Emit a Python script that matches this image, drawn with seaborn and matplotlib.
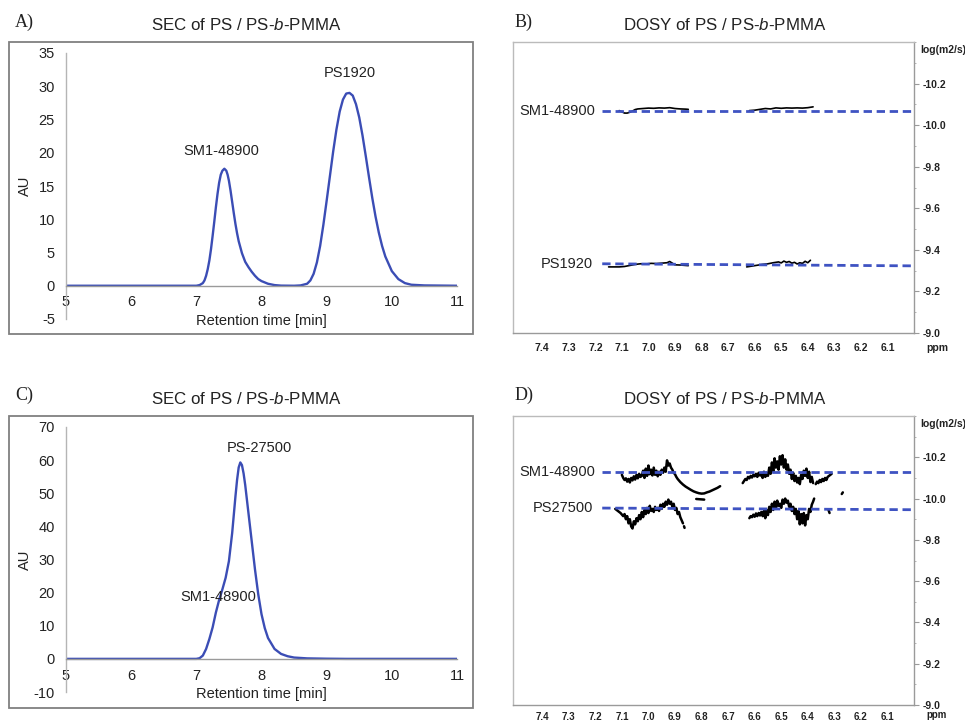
import matplotlib
matplotlib.use("Agg")
import matplotlib.pyplot as plt
from matplotlib.patches import Rectangle
from matplotlib.ticker import MultipleLocator, FixedLocator
import seaborn as sns
import pandas as pd

sns.set_style("white")
plt.rcParams['font.family'] = ['Liberation Sans', 'DejaVu Sans']
plt.rcParams['mathtext.fontset'] = 'custom'
plt.rcParams['mathtext.rm'] = 'Liberation Sans'
plt.rcParams['mathtext.it'] = 'Liberation Sans:italic'
plt.rcParams['axes.unicode_minus'] = False

# ---------------- data ----------------
# Panel A: SEC trace (retention time [min], AU)
sec_a_time = [5.0, 6.0, 7.0, 7.05, 7.1, 7.125, 7.15, 7.175, 7.2, 7.225, 7.25, 7.275, 7.3, 7.325,
              7.35, 7.375, 7.4, 7.43, 7.46, 7.48, 7.5, 7.525, 7.55, 7.575, 7.6, 7.625, 7.65, 7.7,
              7.75, 7.8, 7.85, 7.9, 7.95, 8.0, 8.1, 8.2, 8.3, 8.5, 8.6, 8.7, 8.75, 8.8, 8.85, 8.9,
              8.95, 9.0, 9.05, 9.1, 9.15, 9.2, 9.25, 9.3, 9.35, 9.4, 9.45, 9.5, 9.55, 9.6, 9.65,
              9.7, 9.75, 9.8, 9.85, 9.9, 10.0, 10.1, 10.2, 10.3, 10.5, 11.0]
sec_a_au = [0.0, 0.0, 0.0, 0.1, 0.4, 0.8, 1.5, 2.5, 3.8, 5.5, 7.5, 9.6, 11.8, 13.8,
            15.5, 16.7, 17.3, 17.6, 17.3, 16.7, 15.8, 14.3, 12.6, 10.9, 9.3, 7.9, 6.7, 4.9,
            3.6, 2.8, 2.1, 1.5, 1.0, 0.7, 0.3, 0.1, 0.02, 0.0, 0.05, 0.3, 0.8, 1.8, 3.5, 6.0,
            9.2, 12.8, 16.5, 20.2, 23.5, 26.2, 28.0, 28.9, 29.0, 28.6, 27.3, 25.3, 22.6, 19.5, 16.3,
            13.2, 10.4, 8.0, 6.0, 4.4, 2.2, 1.0, 0.4, 0.15, 0.05, 0.0]

# Panel C: SEC trace
sec_c_time = [5.0, 6.0, 7.0, 7.05, 7.1, 7.15, 7.2, 7.25, 7.3, 7.35, 7.4, 7.45, 7.5, 7.55, 7.6,
              7.625, 7.65, 7.675, 7.7, 7.725, 7.75, 7.8, 7.85, 7.9, 7.95, 8.0, 8.05, 8.1, 8.2,
              8.3, 8.4, 8.5, 8.7, 9.0, 9.3, 11.0]
sec_c_au = [0.0, 0.0, 0.0, 0.2, 1.0, 3.0, 6.0, 9.5, 14.0, 17.8, 21.0, 24.5, 29.5, 38.0, 49.0,
            54.0, 57.8, 59.3, 58.5, 56.0, 52.5, 44.0, 35.5, 27.0, 19.5, 13.5, 9.3, 6.3, 3.0,
            1.5, 0.8, 0.4, 0.15, 0.05, 0.0, 0.0]

sec_a_labels = ["SM1-48900", "PS1920"]
sec_a_label_x = [7.39, 9.36]
sec_a_label_y = [20.3, 32.0]
sec_c_labels = ["PS-27500", "SM1-48900"]
sec_c_label_x = [7.97, 7.34]
sec_c_label_y = [63.8, 18.8]

# Panel B: DOSY traces (ppm, log D)
b_sm1_seg1_ppm = [7.11, 7.10, 7.09, 7.08, 7.07, 7.06, 7.05, 7.04, 7.02, 7.00, 6.98, 6.96, 6.94,
                  6.92, 6.90, 6.88, 6.86, 6.85]
b_sm1_seg1_logd = [-10.070, -10.064, -10.058, -10.058, -10.062, -10.068, -10.075, -10.078,
                   -10.080, -10.082, -10.081, -10.083, -10.082, -10.084, -10.080, -10.078,
                   -10.077, -10.076]
b_sm1_seg2_ppm = [6.62, 6.60, 6.58, 6.56, 6.54, 6.52, 6.50, 6.48, 6.46, 6.44, 6.42, 6.40, 6.38]
b_sm1_seg2_logd = [-10.070, -10.072, -10.076, -10.080, -10.078, -10.083, -10.081, -10.083,
                   -10.082, -10.083, -10.082, -10.084, -10.088]
b_ps_seg1_ppm = [7.15, 7.13, 7.11, 7.09, 7.07, 7.05, 7.03, 7.01, 6.99, 6.97, 6.95, 6.93, 6.92,
                 6.91, 6.90, 6.88, 6.86, 6.85]
b_ps_seg1_logd = [-9.318, -9.318, -9.318, -9.320, -9.325, -9.330, -9.333, -9.332, -9.335,
                  -9.334, -9.336, -9.338, -9.344, -9.336, -9.328, -9.327, -9.325, -9.324]
b_ps_seg2_ppm = [6.63, 6.61, 6.59, 6.57, 6.55, 6.53, 6.51, 6.50, 6.49, 6.48, 6.47, 6.46, 6.45,
                 6.44, 6.43, 6.42, 6.41, 6.40, 6.39]
b_ps_seg2_logd = [-9.318, -9.322, -9.326, -9.330, -9.333, -9.338, -9.342, -9.337, -9.346,
                  -9.340, -9.344, -9.336, -9.340, -9.332, -9.338, -9.335, -9.345, -9.338, -9.350]

# Panel D: DOSY traces
d_sm1_seg1_ppm = [7.100, 7.095, 7.090, 7.085, 7.080, 7.075, 7.070, 7.065, 7.060, 7.055, 7.050,
                  7.045, 7.040, 7.035, 7.030, 7.025, 7.020, 7.015, 7.010, 7.005, 7.000, 6.995,
                  6.990, 6.985, 6.980, 6.975, 6.970, 6.965, 6.960, 6.955, 6.950, 6.945, 6.940,
                  6.935, 6.930, 6.925, 6.920, 6.915, 6.910, 6.905, 6.900, 6.895, 6.890, 6.880,
                  6.870, 6.860, 6.850, 6.840, 6.830, 6.820, 6.810, 6.800, 6.790, 6.780, 6.770,
                  6.760, 6.750, 6.740, 6.730]
d_sm1_seg1_logd = [-10.115, -10.100, -10.090, -10.098, -10.082, -10.095, -10.078, -10.100,
                   -10.088, -10.108, -10.092, -10.115, -10.098, -10.120, -10.105, -10.110,
                   -10.135, -10.100, -10.145, -10.110, -10.160, -10.118, -10.140, -10.112,
                   -10.150, -10.115, -10.135, -10.108, -10.130, -10.115, -10.140, -10.125,
                   -10.150, -10.130, -10.185, -10.160, -10.170, -10.150, -10.140, -10.125,
                   -10.118, -10.105, -10.095, -10.080, -10.068, -10.058, -10.050, -10.042,
                   -10.035, -10.030, -10.026, -10.024, -10.025, -10.030, -10.034, -10.040,
                   -10.046, -10.052, -10.060]
d_sm1_dash_ppm = [6.82, 6.79]
d_sm1_dash_logd = [-9.998, -9.995]
d_sm1_seg2_ppm = [6.645, 6.640, 6.635, 6.630, 6.625, 6.620, 6.615, 6.610, 6.605, 6.600, 6.595,
                  6.590, 6.585, 6.580, 6.575, 6.570, 6.565, 6.560, 6.555, 6.550, 6.545, 6.540,
                  6.535, 6.530, 6.525, 6.520, 6.515, 6.510, 6.505, 6.500, 6.495, 6.490, 6.485,
                  6.480, 6.475, 6.470, 6.465, 6.460, 6.455, 6.450, 6.445, 6.440, 6.435, 6.430,
                  6.425, 6.420, 6.415, 6.410, 6.405, 6.400, 6.395, 6.390, 6.385, 6.380]
d_sm1_seg2_logd = [-10.075, -10.085, -10.095, -10.090, -10.105, -10.098, -10.110, -10.102,
                   -10.115, -10.108, -10.120, -10.105, -10.125, -10.112, -10.118, -10.100,
                   -10.130, -10.105, -10.125, -10.110, -10.150, -10.120, -10.175, -10.130,
                   -10.195, -10.150, -10.180, -10.140, -10.205, -10.165, -10.210, -10.150,
                   -10.190, -10.140, -10.165, -10.120, -10.140, -10.095, -10.125, -10.085,
                   -10.110, -10.078, -10.100, -10.070, -10.115, -10.095, -10.135, -10.110,
                   -10.145, -10.100, -10.130, -10.080, -10.105, -10.075]
d_sm1_seg3_ppm = [6.370, 6.365, 6.360, 6.355, 6.350, 6.345, 6.340, 6.335, 6.330, 6.325, 6.320,
                  6.315, 6.310]
d_sm1_seg3_logd = [-10.070, -10.082, -10.075, -10.090, -10.080, -10.095, -10.085, -10.100,
                   -10.090, -10.105, -10.110, -10.115, -10.120]
d_sm1_tick_ppm = [6.272, 6.268]
d_sm1_tick_logd = [-10.022, -10.030]
d_ps_seg1_ppm = [7.125, 7.115, 7.105, 7.095, 7.090, 7.085, 7.080, 7.075, 7.070, 7.065, 7.060,
                 7.055, 7.050, 7.045, 7.040, 7.035, 7.030, 7.025, 7.020, 7.015, 7.010, 7.005,
                 7.000, 6.995, 6.990, 6.985, 6.980, 6.975, 6.970, 6.965, 6.960, 6.955, 6.950,
                 6.945, 6.940, 6.935, 6.930, 6.925, 6.920, 6.915, 6.910, 6.905, 6.900, 6.895,
                 6.890, 6.885, 6.880, 6.875, 6.870]
d_ps_seg1_logd = [-9.950, -9.940, -9.930, -9.915, -9.925, -9.900, -9.915, -9.880, -9.900,
                  -9.865, -9.855, -9.890, -9.875, -9.905, -9.890, -9.920, -9.900, -9.935,
                  -9.910, -9.945, -9.925, -9.955, -9.930, -9.965, -9.940, -9.950, -9.935,
                  -9.960, -9.945, -9.955, -9.940, -9.970, -9.950, -9.975, -9.960, -9.985,
                  -9.970, -9.995, -9.975, -9.985, -9.960, -9.975, -9.945, -9.955, -9.925,
                  -9.935, -9.910, -9.895, -9.880]
d_ps_dot_ppm = [6.866, 6.864]
d_ps_dot_logd = [-9.866, -9.858]
d_ps_seg2_ppm = [6.620, 6.615, 6.610, 6.605, 6.600, 6.595, 6.590, 6.585, 6.580, 6.575, 6.570,
                 6.565, 6.560, 6.555, 6.550, 6.545, 6.540, 6.535, 6.530, 6.525, 6.520, 6.515,
                 6.510, 6.505, 6.500, 6.495, 6.490, 6.485, 6.480, 6.475, 6.470, 6.465, 6.460,
                 6.455, 6.450, 6.445, 6.440, 6.435, 6.430, 6.425, 6.420, 6.415, 6.410, 6.405,
                 6.400, 6.395, 6.390, 6.385, 6.380, 6.376]
d_ps_seg2_logd = [-9.905, -9.915, -9.910, -9.922, -9.912, -9.928, -9.915, -9.930, -9.918,
                  -9.935, -9.915, -9.940, -9.905, -9.945, -9.920, -9.960, -9.935, -9.975,
                  -9.945, -9.985, -9.950, -9.990, -9.965, -9.975, -9.955, -9.995, -9.975,
                  -10.000, -9.980, -9.990, -9.960, -9.975, -9.940, -9.960, -9.925, -9.950,
                  -9.900, -9.940, -9.875, -9.925, -9.880, -9.930, -9.870, -9.920, -9.900,
                  -9.950, -9.935, -9.970, -9.985, -10.000]
d_ps_tick_ppm = [6.322, 6.318]
d_ps_tick_logd = [-9.945, -9.930]

# reference (dashed) lines: start logD, end logD
b_ref_names = ["SM1-48900", "PS1920"]
b_ref_start = [-10.067, -9.333]
b_ref_end = [-10.067, -9.323]
d_ref_names = ["SM1-48900", "PS27500"]
d_ref_start = [-10.128, -9.954]
d_ref_end = [-10.128, -9.946]
ref_ppm_range = [7.174, 6.0]
ref_label_ppm = [7.20, 7.21]

ppm_ticks = [7.4, 7.3, 7.2, 7.1, 7.0, 6.9, 6.8, 6.7, 6.6, 6.5, 6.4, 6.3, 6.2, 6.1]
logd_ticks = [-10.2, -10.0, -9.8, -9.6, -9.4, -9.2, -9.0]

# ---------------- figure ----------------
W, H = 965, 724
fig = plt.figure(figsize=(W / 100, H / 100), dpi=100)


def fbox(x0, y0, x1, y1):
    return [x0 / W, 1 - y1 / H, (x1 - x0) / W, (y1 - y0) / H]


BLUE = "#3b4db5"
DASH = "#3f53c2"
GRAY = "#9a9a9a"
TXT = "#222222"
TITLE = "SEC of PS / PS-$b$-PMMA"
DTITLE = "DOSY of PS / PS-$b$-PMMA"


def sec_panel(rect, frame, t, au, ylim, ystep, labels, lx, ly):
    fig.add_artist(Rectangle((frame[0], frame[1]), frame[2], frame[3],
                             transform=fig.transFigure, fill=False,
                             edgecolor="#808080", lw=1.3))
    ax = fig.add_axes(rect)
    df = pd.DataFrame({"time": t, "au": au})
    sns.lineplot(data=df, x="time", y="au", ax=ax, color=BLUE, lw=1.7,
                 sort=False, estimator=None)
    ax.set_xlim(5, 11)
    ax.set_ylim(*ylim)
    ax.set_facecolor("none")
    for s in ["top", "right"]:
        ax.spines[s].set_visible(False)
    ax.spines["bottom"].set_position(("data", 0))
    ax.spines["left"].set_color("#b5b5b5")
    ax.spines["bottom"].set_color("#9a9a9a")
    ax.spines["left"].set_linewidth(1.0)
    ax.spines["bottom"].set_linewidth(1.0)
    ax.xaxis.set_major_locator(MultipleLocator(1))
    ax.yaxis.set_major_locator(MultipleLocator(ystep))
    ax.tick_params(axis="both", which="major", direction="out", length=3,
                   color="#9a9a9a", labelsize=10.5, labelcolor=TXT)
    ax.tick_params(axis="y", pad=5)
    ax.tick_params(axis="x", pad=4)
    ax.set_xlabel("Retention time [min]", fontsize=10.5, color=TXT)
    ax.set_ylabel("AU", fontsize=10.5, color=TXT)
    ax.xaxis.set_label_coords(0.5, 0.018)
    ax.yaxis.set_label_coords(-0.088, 0.5)
    for lab, x, y in zip(labels, lx, ly):
        ax.text(x, y, lab, ha="center", va="center", fontsize=10.5, color=TXT)
    return ax


def dosy_panel(rect, traces, names, ystart, yend, lw, xpad, ppm_y, xlabsize):
    ax = fig.add_axes(rect)
    for px, py in traces:
        df = pd.DataFrame({"ppm": px, "logd": py})
        sns.lineplot(data=df, x="ppm", y="logd", ax=ax, color="black", lw=lw,
                     sort=False, estimator=None)
    for name, y0, y1, lp in zip(names, ystart, yend, ref_label_ppm):
        df = pd.DataFrame({"ppm": ref_ppm_range, "logd": [y0, y1]})
        sns.lineplot(data=df, x="ppm", y="logd", ax=ax, color=DASH, lw=2.0,
                     linestyle=(0, (3.0, 1.7)), sort=False, estimator=None)
        ax.text(lp, y0, name, ha="right", va="center", fontsize=10.5, color=TXT)
    ax.set_xlim(7.51, 6.0)
    ax.set_ylim(-9.0, -10.4)
    ax.yaxis.tick_right()
    ax.xaxis.set_major_locator(FixedLocator(ppm_ticks))
    ax.xaxis.set_minor_locator(MultipleLocator(0.01))
    ax.yaxis.set_major_locator(FixedLocator(logd_ticks))
    ax.yaxis.set_minor_locator(MultipleLocator(0.1))
    ax.set_xticklabels([f"{v:.1f}" for v in ppm_ticks], fontweight="bold")
    ax.set_yticklabels([f"{v:.1f}" for v in logd_ticks], fontweight="bold")
    ax.tick_params(axis="both", which="major", direction="out", length=3.5,
                   color=GRAY, labelcolor=TXT)
    ax.tick_params(axis="y", which="major", pad=3, right=True, left=False, labelsize=7.5)
    ax.tick_params(axis="x", which="major", pad=xpad, labelsize=xlabsize)
    ax.tick_params(axis="both", which="minor", direction="out", length=1.5, color="#aaaaaa")
    ax.tick_params(axis="y", which="minor", right=True, left=False)
    for s in ["top", "left"]:
        ax.spines[s].set_color("#bbbbbb")
        ax.spines[s].set_linewidth(1.0)
    for s in ["right", "bottom"]:
        ax.spines[s].set_color(GRAY)
        ax.spines[s].set_linewidth(1.0)
    ax.set_xlabel("")
    ax.set_ylabel("")
    ax.text(1.057, ppm_y, "ppm", transform=ax.transAxes, ha="center", va="center",
            fontsize=xlabsize, fontweight="bold", color=TXT)
    ax.text(1.072, 0.973, "log(m2/s)", transform=ax.transAxes, ha="center", va="center",
            fontsize=7.5, fontweight="bold", color=TXT)
    return ax


# Panel A
sec_panel(fbox(66, 53, 457, 319), fbox(9, 42, 473, 334), sec_a_time, sec_a_au,
          (-5, 35), 5, sec_a_labels, sec_a_label_x, sec_a_label_y)
# Panel C
sec_panel(fbox(66, 427, 457, 692), fbox(9, 416, 473, 708), sec_c_time, sec_c_au,
          (-10, 70), 10, sec_c_labels, sec_c_label_x, sec_c_label_y)

# Panel B
dosy_panel(fbox(513, 42, 914, 333),
           [(b_sm1_seg1_ppm, b_sm1_seg1_logd), (b_sm1_seg2_ppm, b_sm1_seg2_logd),
            (b_ps_seg1_ppm, b_ps_seg1_logd), (b_ps_seg2_ppm, b_ps_seg2_logd)],
           b_ref_names, b_ref_start, b_ref_end, 1.2, 4, -0.05, 7.5)
# Panel D
dosy_panel(fbox(513, 416, 914, 705),
           [(d_sm1_seg1_ppm, d_sm1_seg1_logd), (d_sm1_dash_ppm, d_sm1_dash_logd),
            (d_sm1_seg2_ppm, d_sm1_seg2_logd), (d_sm1_seg3_ppm, d_sm1_seg3_logd),
            (d_sm1_tick_ppm, d_sm1_tick_logd),
            (d_ps_seg1_ppm, d_ps_seg1_logd), (d_ps_dot_ppm, d_ps_dot_logd),
            (d_ps_seg2_ppm, d_ps_seg2_logd), (d_ps_tick_ppm, d_ps_tick_logd)],
           d_ref_names, d_ref_start, d_ref_end, 1.8, 1.5, -0.035, 7.0)

# Titles and panel letters
for x, y, t in [(246, 25, TITLE), (725, 25, DTITLE), (246, 399, TITLE), (725, 399, DTITLE)]:
    fig.text(x / W, 1 - y / H, t, ha="center", va="center", fontsize=12.2, color=TXT)
for x, y, t in [(15, 22, "A)"), (515, 22, "B)"), (15, 395, "C)"), (515, 395, "D)")]:
    fig.text(x / W, 1 - y / H, t, ha="left", va="center", fontsize=13,
             family=["Liberation Serif", "DejaVu Serif"], color=TXT)

fig.savefig("out.png", dpi=100)
